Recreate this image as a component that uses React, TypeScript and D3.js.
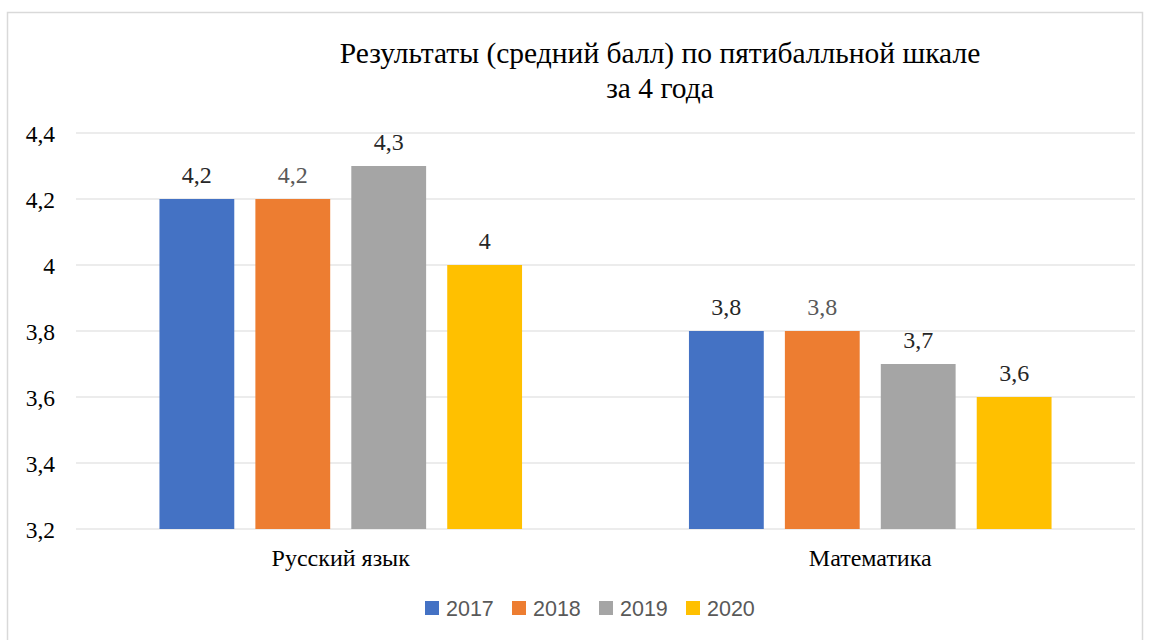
import * as d3 from 'd3'

const categories = ['Русский язык', 'Математика']
const years = ['2017', '2018', '2019', '2020']
const values2017 = [4.2, 3.8]
const values2018 = [4.2, 3.8]
const values2019 = [4.3, 3.7]
const values2020 = [4.0, 3.6]
const yTicks = [3.2, 3.4, 3.6, 3.8, 4.0, 4.2, 4.4]
const titleLines = ['Результаты (средний балл) по пятибалльной шкале', 'за 4 года']

const colors = ['#4472c4', '#ed7d31', '#a5a5a5', '#ffc000']
const labelColors = ['#262626', '#595959', '#262626', '#262626']
const series = [values2017, values2018, values2019, values2020]

const fmt = (v: number) => {
  const s = Number.isInteger(v) ? String(v) : v.toFixed(1)
  return s.replace('.', ',')
}

export default function App() {
  const width = 1150
  const height = 640
  const margin = { top: 133, right: 15, bottom: 111, left: 76 }
  const serif = { fontFamily: "'Liberation Serif', 'Times New Roman', serif" }
  const sans = { fontFamily: "'Liberation Sans', Arial, sans-serif" }

  const x0 = d3.scaleBand<string>()
    .domain(categories)
    .range([margin.left, width - margin.right])
  const x1 = d3.scaleBand<string>()
    .domain(years)
    .range([0, x0.bandwidth()])
    .paddingInner(0.22)
    .paddingOuter(0.87)
  const y = d3.scaleLinear()
    .domain([3.2, 4.4])
    .range([height - margin.bottom, margin.top])

  return (
    <svg width={width} height={height} style={{ position: 'absolute', left: 0, top: 0, background: '#fff' }}>
      <rect x={7.5} y={12.5} width={1135} height={640} fill="#fff" stroke="#d9d9d9" strokeWidth={1.5} />
      {titleLines.map((t, i) => (
        <text key={i} x={660} y={63 + i * 35} textAnchor="middle" style={serif} fontSize={29.5} fill="#000">{t}</text>
      ))}
      {yTicks.map(t => (
        <g key={t}>
          <line x1={margin.left} x2={width - margin.right} y1={y(t)} y2={y(t)} stroke="#d9d9d9" strokeWidth={1} />
          <text x={55} y={y(t) + 9} textAnchor="end" style={serif} fontSize={23.5} fill="#000">{fmt(t)}</text>
        </g>
      ))}
      {categories.map((c, ci) => (
        <g key={c} transform={`translate(${x0(c)},0)`}>
          {years.map((yr, si) => {
            const v = series[si][ci]
            const bx = x1(yr)!
            return (
              <g key={yr}>
                <rect x={bx} y={y(v)} width={x1.bandwidth()} height={y(3.2) - y(v)} fill={colors[si]} />
                <text x={bx + x1.bandwidth() / 2} y={y(v) - 16} textAnchor="middle" style={serif} fontSize={24} fill={labelColors[si]}>{fmt(v)}</text>
              </g>
            )
          })}
          <text x={x0.bandwidth() / 2} y={566} textAnchor="middle" style={serif} fontSize={24} fill="#000">{c}</text>
        </g>
      ))}
      {years.map((yr, i) => (
        <g key={yr} transform={`translate(${425 + i * 87},0)`}>
          <rect x={0} y={601} width={14} height={14} fill={colors[i]} />
          <text x={21} y={616} style={sans} fontSize={21.5} fill="#595959">{yr}</text>
        </g>
      ))}
    </svg>
  )
}
